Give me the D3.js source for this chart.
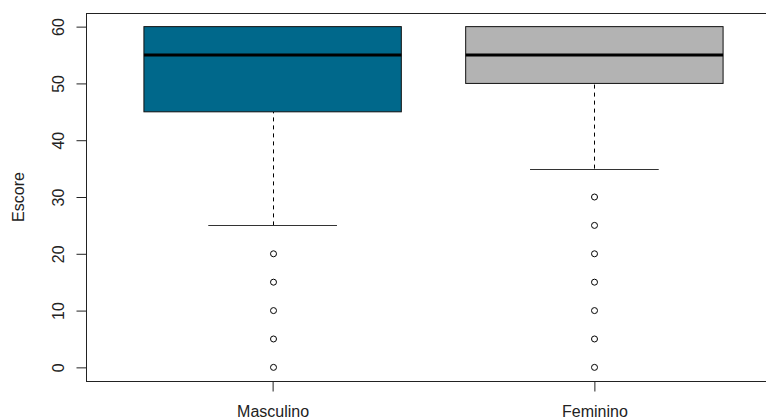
<!DOCTYPE html>
<html>
<head>
<meta charset="utf-8">
<script src="https://cdn.jsdelivr.net/npm/d3@7"></script>
<style>
  html, body { margin: 0; padding: 0; background: #fff; }
  svg { display: block; font-family: "Liberation Sans", Arial, sans-serif; }
</style>
</head>
<body>
<svg id="chart" width="766" height="419"></svg>
<script>
// Groups and their five-number summaries (escore)
const groups = ["Masculino", "Feminino"];
const lowerWhisker = [25, 35];
const q1 = [45, 50];
const median = [55, 55];
const q3 = [60, 60];
const upperWhisker = [60, 60];
const outliersMasculino = [20, 15, 10, 5, 0];
const outliersFeminino = [30, 25, 20, 15, 10, 5, 0];
const boxFills = ["#00688B", "#B3B3B3"];
const yTicks = [0, 10, 20, 30, 40, 50, 60];

const outliers = [outliersMasculino, outliersFeminino];

const svg = d3.select("#chart");
const plotLeft = 86, plotRight = 781, plotTop = 13, plotBottom = 381;

// Data range padded by 4% on each side
const y = d3.scaleLinear().domain([-2.4, 62.4]).range([plotBottom, plotTop]);
const x = d3.scaleLinear().domain([0.42, 2.58]).range([plotLeft, plotRight]);
const boxHalf = 0.4, capHalf = 0.2;

const g = svg.append("g");

groups.forEach((name, i) => {
  const c = i + 1;
  const cx = Math.round(x(c)) + 0.5;
  // dashed whiskers between the box and the staples
  g.append("line")
    .attr("x1", cx).attr("x2", cx)
    .attr("y1", y(lowerWhisker[i])).attr("y2", y(q1[i]))
    .attr("stroke", "#000").attr("stroke-width", 1)
    .attr("stroke-dasharray", "4,4");
  if (upperWhisker[i] > q3[i]) {
    g.append("line")
      .attr("x1", cx).attr("x2", cx)
      .attr("y1", y(q3[i])).attr("y2", y(upperWhisker[i]))
      .attr("stroke", "#000").attr("stroke-dasharray", "4,4");
  }
  // staples
  [lowerWhisker[i], upperWhisker[i]].forEach(v => {
    g.append("line")
      .attr("x1", x(c - capHalf)).attr("x2", x(c + capHalf))
      .attr("y1", Math.round(y(v)) + 0.5).attr("y2", Math.round(y(v)) + 0.5)
      .attr("stroke", "#333").attr("stroke-width", 1);
  });
  // box
  g.append("rect")
    .attr("x", x(c - boxHalf)).attr("width", x(c + boxHalf) - x(c - boxHalf))
    .attr("y", y(q3[i])).attr("height", y(q1[i]) - y(q3[i]))
    .attr("fill", boxFills[i]).attr("stroke", "#111").attr("stroke-width", 1);
  // median
  g.append("line")
    .attr("x1", x(c - boxHalf)).attr("x2", x(c + boxHalf))
    .attr("y1", y(median[i])).attr("y2", y(median[i]))
    .attr("stroke", "#000").attr("stroke-width", 3);
  // outliers
  g.selectAll(null).data(outliers[i]).enter().append("circle")
    .attr("cx", cx).attr("cy", d => y(d)).attr("r", 3)
    .attr("fill", "none").attr("stroke", "#000").attr("stroke-width", 1);
});

// plot frame
svg.append("rect")
  .attr("x", plotLeft + 0.5).attr("y", plotTop + 0.5)
  .attr("width", plotRight - plotLeft).attr("height", plotBottom - plotTop)
  .attr("fill", "none").attr("stroke", "#222").attr("stroke-width", 1);

// y axis
const yAxis = svg.append("g")
  .attr("transform", `translate(${plotLeft + 0.5},0)`)
  .call(d3.axisLeft(y).tickValues(yTicks).tickSize(10).tickPadding(6));
yAxis.select(".domain").remove();
yAxis.selectAll(".tick line").attr("stroke", "#222");
yAxis.selectAll(".tick text")
  .attr("font-size", 16).attr("fill", "#222")
  .attr("x", null).attr("dy", null)
  .attr("text-anchor", "middle")
  .attr("transform", "translate(-23,0) rotate(-90)")
  .attr("y", 0);

// x axis
const xAxis = svg.append("g")
  .attr("transform", `translate(0,${plotBottom + 0.5})`)
  .call(d3.axisBottom(x).tickValues([1, 2]).tickFormat((d) => groups[d - 1]).tickSize(10).tickPadding(14));
xAxis.select(".domain").remove();
xAxis.selectAll(".tick line").attr("stroke", "#222");
xAxis.selectAll(".tick text").attr("font-size", 16).attr("fill", "#222");

// y axis title
svg.append("text")
  .attr("transform", `translate(24,${(plotTop + plotBottom) / 2}) rotate(-90)`)
  .attr("text-anchor", "middle")
  .attr("font-size", 16).attr("fill", "#222")
  .text("Escore");
</script>
</body>
</html>
